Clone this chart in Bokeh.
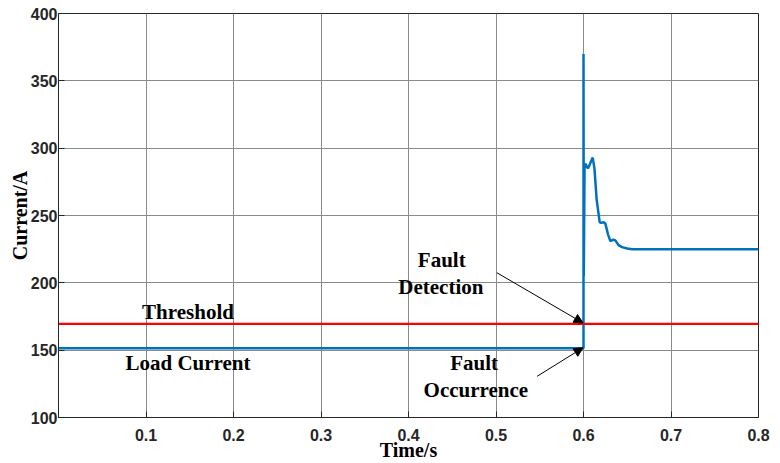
from bokeh.plotting import figure
from bokeh.models import (Range1d, FixedTicker, Label, Arrow, NormalHead)
from bokeh.embed import file_html
from bokeh.resources import INLINE

# ---- data ----
x_ticks = [0.1, 0.2, 0.3, 0.4, 0.5, 0.6, 0.7, 0.8]
y_ticks = [100, 150, 200, 250, 300, 350, 400]

t_current = [0.0, 0.6, 0.6, 0.6003, 0.6012, 0.6021, 0.6040, 0.6052, 0.6072, 0.6105,
             0.6125, 0.6150, 0.6185, 0.6200, 0.6230, 0.6250, 0.6280, 0.6307, 0.6340,
             0.6364, 0.6400, 0.6440, 0.6500, 0.6555, 0.6800, 0.8]
i_current = [151.5, 151.5, 370.0, 205.0, 285.0, 288.5, 286.0, 285.0, 288.0, 293.0,
             285.0, 262.0, 245.0, 244.5, 245.0, 244.0, 236.0, 231.0, 232.0,
             231.5, 228.0, 226.5, 225.5, 225.0, 225.0, 225.0]

t_threshold = [0.0, 0.8]
i_threshold = [169.5, 169.5]

labels = ["Threshold", "Load Current", "Fault", "Detection", "Fault", "Occurrence"]
label_x = [0.148, 0.148, 0.438, 0.437, 0.475, 0.477]
label_y = [178.5, 140.5, 217.0, 197.2, 140.5, 120.2]

arrow_tail_x = [0.501, 0.547]
arrow_tail_y = [207.5, 130.6]
arrow_head_x = [0.5995, 0.5995]
arrow_head_y = [170.2, 151.8]

# ---- figure ----
p = figure(width=780, height=463, output_backend="svg", toolbar_location=None,
           x_range=Range1d(0, 0.8), y_range=Range1d(100, 400),
           min_border_left=58, min_border_right=22, min_border_top=13,
           min_border_bottom=45)
p.background_fill_color = "white"
p.border_fill_color = "white"
p.outline_line_color = "#262626"
p.outline_line_width = 1

tick_font = "Liberation Sans"
serif = "Liberation Serif"

for ax in (p.xaxis[0], p.yaxis[0]):
    ax.major_tick_in = 6
    ax.major_tick_out = 0
    ax.minor_tick_in = 0
    ax.minor_tick_out = 0
    ax.axis_line_color = "#262626"
    ax.major_tick_line_color = "#262626"
    ax.major_label_text_font = tick_font
    ax.major_label_text_font_style = "bold"
    ax.major_label_text_font_size = "16px"
    ax.major_label_text_color = "#262626"
    ax.axis_label_text_font = serif
    ax.axis_label_text_font_style = "bold"
    ax.axis_label_text_font_size = "20px"
    ax.axis_label_text_color = "#000000"

p.xaxis[0].ticker = FixedTicker(ticks=x_ticks)
p.yaxis[0].ticker = FixedTicker(ticks=y_ticks)
p.xaxis[0].axis_label = "Time/s"
p.yaxis[0].axis_label = "Current/A"
p.xaxis[0].major_label_standoff = 11
p.xaxis[0].axis_label_standoff = -5
p.yaxis[0].major_label_standoff = 1
p.yaxis[0].axis_label_standoff = -3

p.xgrid.ticker = FixedTicker(ticks=x_ticks)
p.ygrid.ticker = FixedTicker(ticks=y_ticks)
p.grid.grid_line_color = "#8a8a8a"
p.grid.grid_line_width = 1
p.grid.grid_line_alpha = 1

# lines
p.line(t_current, i_current, line_color="#0072BD", line_width=2.5)
p.line(t_threshold, i_threshold, line_color="#FF0000", line_width=2.2)

# annotations
for txt, lx, ly in zip(labels, label_x, label_y):
    p.add_layout(Label(x=lx, y=ly, text=txt, text_align="center", text_baseline="middle",
                       text_font=serif, text_font_style="bold", text_font_size="21px",
                       text_color="#000000"))

for tx, ty, hx, hy in zip(arrow_tail_x, arrow_tail_y, arrow_head_x, arrow_head_y):
    p.add_layout(Arrow(x_start=tx, y_start=ty, x_end=hx, y_end=hy,
                       line_color="black", line_width=1,
                       end=NormalHead(size=9, fill_color="black", line_color="black")))

open("out.html", "w").write(file_html(p, INLINE))
